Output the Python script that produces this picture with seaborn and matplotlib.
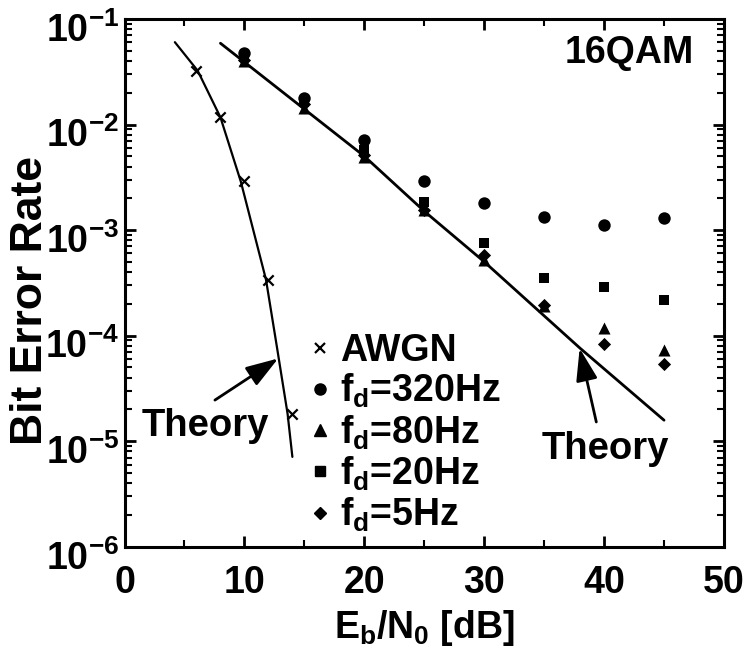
import numpy as np
import pandas as pd
import seaborn as sns
import matplotlib
matplotlib.use("Agg")
import matplotlib.pyplot as plt
from matplotlib.lines import Line2D
from matplotlib.ticker import FixedLocator, FixedFormatter, LogLocator, NullFormatter, MultipleLocator
import matplotlib.transforms as mtransforms

# Data
awgn_snr = [6, 8, 10, 12, 14]
awgn_ber = [0.032, 0.0119, 0.0029, 3.4e-4, 1.8e-5]

fading_snr = [10, 15, 20, 25, 30, 35, 40, 45]
ber_320hz = [0.048, 0.018, 0.0071, 0.0029, 0.0018, 0.00134, 0.00112, 0.0013]
ber_80hz = [0.040, 0.0145, 0.0049, 0.00155, 5.2e-4, 1.9e-4, 1.17e-4, 7.3e-5]
ber_20hz = [0.044, 0.0165, 0.0058, 0.00186, 7.5e-4, 3.5e-4, 2.9e-4, 2.17e-4]
ber_5hz = [0.041, 0.0155, 0.0052, 0.00155, 5.8e-4, 1.95e-4, 8.4e-5, 5.4e-5]

# Theory curves
theory_awgn_snr = [4.2, 6.1, 8.0, 9.7, 11.8, 12.7, 13.6, 14.0]
theory_awgn_ber = [0.0603, 0.0324, 0.0117, 0.00288, 3.39e-4, 7.94e-5, 1.82e-5, 7.1e-6]
theory_fading_snr = [8, 20, 25, 30, 38, 45]
theory_fading_ber = [0.0589, 0.00501, 0.00151, 5.01e-4, 7.59e-5, 1.58e-5]

x_ticks = [0, 10, 20, 30, 40, 50]
y_ticks = [1e-6, 1e-5, 1e-4, 1e-3, 1e-2, 1e-1]
y_tick_labels = [r"$10^{-6}$", r"$10^{-5}$", r"$10^{-4}$", r"$10^{-3}$", r"$10^{-2}$", r"$10^{-1}$"]

df_fading = pd.DataFrame({
    "snr": fading_snr * 4,
    "ber": ber_320hz + ber_80hz + ber_20hz + ber_5hz,
    "fd": ["320"] * 8 + ["80"] * 8 + ["20"] * 8 + ["5"] * 8,
})

# Style
sns.set_theme(style="ticks")
plt.rcParams["font.family"] = ["Liberation Sans", "DejaVu Sans"]
plt.rcParams["font.weight"] = "bold"
plt.rcParams["mathtext.fontset"] = "custom"
plt.rcParams["mathtext.rm"] = "Liberation Sans:bold"
plt.rcParams["mathtext.it"] = "Liberation Sans:bold"
plt.rcParams["mathtext.bf"] = "Liberation Sans:bold"
plt.rcParams["mathtext.sf"] = "Liberation Sans:bold"
for key in ["text.color", "axes.labelcolor", "xtick.color", "ytick.color", "axes.edgecolor"]:
    plt.rcParams[key] = "black"

fig = plt.figure(figsize=(7.47, 6.48), dpi=100)
ax = fig.add_axes([0.1667, 0.1563, 0.8025, 0.8144])

# Theory lines
sns.lineplot(x=theory_awgn_snr, y=theory_awgn_ber, color="black", lw=1.6, ax=ax)
sns.lineplot(x=theory_fading_snr, y=theory_fading_ber, color="black", lw=2.0, ax=ax)

# Measured points
sns.scatterplot(x=awgn_snr, y=awgn_ber, marker="x", s=55, color="black", linewidth=1.6, ax=ax)
fd_markers = {"320": "o", "80": "^", "20": "s", "5": "D"}
fd_sizes = {"320": 80, "80": 75, "20": 60, "5": 45}
for fd, mk in fd_markers.items():
    sub = df_fading[df_fading["fd"] == fd]
    sns.scatterplot(data=sub, x="snr", y="ber", marker=mk, s=fd_sizes[fd],
                    color="black", edgecolor="black", linewidth=0, ax=ax, zorder=3)

ax.set_yscale("log")
ax.set_xlim(0, 50)
ax.set_ylim(1e-6, 1e-1)

ax.xaxis.set_major_locator(FixedLocator(x_ticks))
ax.xaxis.set_minor_locator(MultipleLocator(5))
ax.yaxis.set_major_locator(FixedLocator(y_ticks))
ax.yaxis.set_major_formatter(FixedFormatter(y_tick_labels))
ax.yaxis.set_minor_locator(LogLocator(base=10, subs=np.arange(2, 10)))
ax.yaxis.set_minor_formatter(NullFormatter())

ax.tick_params(which="both", direction="in", top=True, right=True, colors="black")
ax.tick_params(which="major", length=8, width=2)
ax.tick_params(which="minor", length=5, width=1.5)
ax.tick_params(axis="x", which="major", labelsize=27, pad=13)
ax.tick_params(axis="y", which="major", labelsize=27, pad=4)

offset = mtransforms.ScaledTranslation(0, -8 / 100, fig.dpi_scale_trans)
for lbl in ax.get_yticklabels():
    lbl.set_transform(lbl.get_transform() + offset)

for sp in ax.spines.values():
    sp.set_linewidth(2.2)
    sp.set_color("black")

ax.set_xlabel(r"$E_b/N_0$ [dB]", fontsize=27, fontweight="bold", labelpad=5)
ax.set_ylabel("Bit Error Rate", fontsize=32, fontweight="bold")
ax.yaxis.set_label_coords(-0.122, 0.4675)

# Annotations
ax.text(47.5, 0.0383, "16QAM", fontsize=27, fontweight="bold", ha="right", va="baseline")
ax.text(1.4, 1.11e-5, "Theory", fontsize=27.5, fontweight="bold", ha="left", va="baseline")
ax.text(34.8, 6.8e-6, "Theory", fontsize=27.5, fontweight="bold", ha="left", va="baseline")
arrow = dict(arrowstyle="-|>,head_length=0.9,head_width=0.3", lw=2, color="black",
             mutation_scale=22, shrinkA=0, shrinkB=0)
ax.annotate("", xy=(12.82, 6.08e-5), xytext=(7.54, 2.45e-5), arrowprops=arrow)
ax.annotate("", xy=(37.96, 7.57e-5), xytext=(39.35, 1.52e-5), arrowprops=arrow)

# Legend
handles = [
    Line2D([], [], marker="x", ls="none", color="black", markersize=7, mew=1.6),
    Line2D([], [], marker="o", ls="none", color="black", markersize=8),
    Line2D([], [], marker="^", ls="none", color="black", markersize=8),
    Line2D([], [], marker="s", ls="none", color="black", markersize=7),
    Line2D([], [], marker="D", ls="none", color="black", markersize=6.5),
]
labels = ["AWGN", r"$f_d$=320Hz", r"$f_d$=80Hz", r"$f_d$=20Hz", r"$f_d$=5Hz"]
ax.legend(handles, labels, loc="upper left", bbox_to_anchor=(0.307, 0.405), frameon=False,
          fontsize=27, handlelength=0.6, handletextpad=0.25, labelspacing=0.08,
          borderpad=0, borderaxespad=0, numpoints=1)

fig.savefig("out.png", dpi=100)
